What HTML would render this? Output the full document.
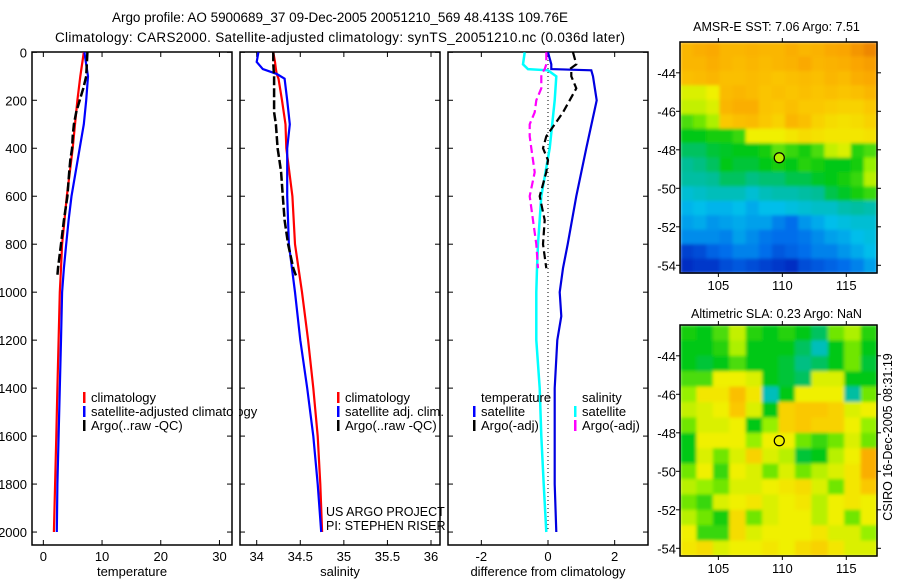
<!DOCTYPE html>
<html><head><meta charset="utf-8"><style>
body{margin:0;background:#fff;}
svg{display:block;font-family:"Liberation Sans",sans-serif;}
text{fill:#000;}
</style></head><body>
<svg id="fig" width="900" height="580" xmlns="http://www.w3.org/2000/svg">
<text x="340" y="22" font-size="13.5" text-anchor="middle" textLength="456">Argo profile: AO 5900689_37 09-Dec-2005 20051210_569 48.413S 109.76E</text>
<text x="340" y="42" font-size="13.5" text-anchor="middle" textLength="570">Climatology: CARS2000. Satellite-adjusted climatology: synTS_20051210.nc (0.036d later)</text>
<g id="g"></g>
</svg>
<script>
// ---- data ----
const tDepth=[0,100,200,300,400,500,600,700,800,900,1000,1200,1400,1600,1800,2000];
const tClim=[6.9,6.3,5.8,5.4,5.0,4.5,4.0,3.6,3.2,3.0,2.8,2.6,2.4,2.2,2.0,1.8];
const tSat=[7.0,7.6,7.3,6.9,6.2,5.5,4.8,4.3,3.9,3.5,3.2,3.0,2.8,2.6,2.4,2.3];
const aDepth=[0,50,100,150,200,250,300,350,400,450,500,600,700,800,900,930];
const tArgo=[7.5,7.4,7.3,6.8,6.2,5.6,5.2,5.0,4.9,4.6,4.4,4.1,3.5,3.0,2.5,2.4];
const sDepth=[0,40,70,90,110,200,300,400,600,800,1000,1200,1400,1600,1800,2000];
const sClim=[34.19,34.21,34.22,34.23,34.25,34.29,34.33,34.34,34.41,34.44,34.52,34.59,34.65,34.70,34.73,34.75];
const sSat=[34.02,34.0,34.07,34.23,34.32,34.35,34.38,34.35,34.35,34.37,34.44,34.50,34.58,34.65,34.70,34.74];
const sArgo=[34.19,34.19,34.2,34.2,34.2,34.2,34.22,34.24,34.26,34.28,34.30,34.32,34.36,34.42,34.44,34.45];
const sArgoDepth=[0,50,100,150,200,250,300,400,450,500,600,700,800,900,920,930];
const dDepth=[0,50,70,75,100,200,400,600,800,900,1000,1100,1200,1400,1600,1800,2000];
const dTSat=[0.0,0.1,0.1,1.3,1.35,1.46,1.15,0.85,0.59,0.45,0.35,0.4,0.28,0.2,0.2,0.2,0.25];
const dSSat=[-0.7,-0.75,-0.6,0.0,0.25,0.2,0.05,-0.2,-0.3,-0.33,-0.35,-0.35,-0.35,-0.25,-0.2,-0.13,-0.05];
const dTArgo=[0.75,0.85,0.65,0.7,0.7,0.85,0.65,0.45,0.2,-0.05,-0.15,0.0,-0.05,-0.25,-0.1,-0.15,-0.05];
const dDepthArgo=[0,50,70,80,100,150,200,250,300,350,400,450,500,600,700,800,900];
const dSArgo=[-0.05,-0.05,-0.1,-0.15,-0.2,-0.2,-0.35,-0.4,-0.55,-0.55,-0.5,-0.45,-0.4,-0.55,-0.45,-0.35,-0.3];
const depthTicks=[0,200,400,600,800,1000,1200,1400,1600,1800,2000];
const tTicks=[0,10,20,30];
const sTicks=[34,34.5,35,35.5,36];
const dTicks=[-2,0,2];
const sstGrid=[
[0.80,0.82,0.83,0.80,0.80,0.81,0.80,0.80,0.82,0.80,0.81,0.83,0.84,0.86,0.88],
[0.80,0.80,0.82,0.80,0.79,0.80,0.79,0.80,0.81,0.83,0.80,0.81,0.82,0.84,0.85],
[0.78,0.79,0.80,0.78,0.78,0.79,0.78,0.77,0.78,0.79,0.78,0.80,0.79,0.82,0.83],
[0.66,0.66,0.68,0.79,0.80,0.79,0.77,0.78,0.77,0.78,0.77,0.78,0.77,0.78,0.80],
[0.64,0.64,0.66,0.80,0.82,0.82,0.77,0.76,0.78,0.76,0.76,0.75,0.74,0.74,0.76],
[0.56,0.58,0.62,0.76,0.78,0.79,0.76,0.74,0.80,0.78,0.74,0.72,0.71,0.72,0.74],
[0.52,0.52,0.53,0.53,0.55,0.68,0.68,0.68,0.70,0.72,0.71,0.70,0.70,0.70,0.71],
[0.48,0.48,0.50,0.51,0.52,0.52,0.53,0.57,0.55,0.53,0.56,0.64,0.66,0.54,0.56],
[0.45,0.46,0.48,0.52,0.50,0.50,0.52,0.53,0.52,0.54,0.53,0.52,0.52,0.53,0.60],
[0.44,0.44,0.45,0.48,0.48,0.46,0.47,0.47,0.49,0.49,0.51,0.52,0.53,0.55,0.63],
[0.40,0.41,0.42,0.42,0.42,0.40,0.42,0.43,0.43,0.44,0.45,0.49,0.51,0.53,0.55],
[0.37,0.38,0.37,0.37,0.38,0.36,0.38,0.38,0.39,0.40,0.41,0.41,0.43,0.44,0.43],
[0.35,0.36,0.34,0.35,0.36,0.35,0.35,0.32,0.30,0.34,0.36,0.38,0.39,0.40,0.40],
[0.33,0.33,0.33,0.32,0.35,0.33,0.31,0.30,0.30,0.31,0.33,0.35,0.36,0.38,0.39],
[0.22,0.24,0.28,0.30,0.32,0.32,0.30,0.26,0.28,0.30,0.32,0.32,0.34,0.36,0.38],
[0.18,0.20,0.20,0.24,0.26,0.24,0.22,0.20,0.18,0.24,0.26,0.28,0.30,0.32,0.35]];
const slaGrid=[
[0.53,0.52,0.56,0.64,0.54,0.52,0.54,0.52,0.48,0.58,0.62,0.54],
[0.52,0.52,0.54,0.62,0.52,0.52,0.52,0.48,0.42,0.52,0.58,0.52],
[0.52,0.50,0.52,0.56,0.52,0.52,0.50,0.46,0.48,0.52,0.58,0.50],
[0.56,0.56,0.68,0.68,0.66,0.52,0.50,0.48,0.66,0.66,0.52,0.52],
[0.60,0.70,0.70,0.78,0.70,0.42,0.52,0.68,0.68,0.68,0.44,0.58],
[0.64,0.66,0.68,0.76,0.66,0.52,0.74,0.76,0.76,0.74,0.66,0.68],
[0.58,0.66,0.66,0.68,0.52,0.60,0.74,0.76,0.74,0.74,0.68,0.60],
[0.52,0.68,0.68,0.68,0.60,0.68,0.68,0.58,0.55,0.58,0.66,0.58],
[0.52,0.66,0.58,0.66,0.74,0.66,0.63,0.50,0.52,0.63,0.68,0.82],
[0.58,0.68,0.55,0.68,0.66,0.58,0.66,0.58,0.63,0.66,0.70,0.82],
[0.63,0.60,0.58,0.66,0.66,0.68,0.70,0.72,0.66,0.58,0.70,0.76],
[0.58,0.55,0.66,0.68,0.70,0.66,0.68,0.70,0.63,0.68,0.70,0.68],
[0.63,0.58,0.53,0.72,0.58,0.66,0.68,0.68,0.63,0.68,0.58,0.68],
[0.68,0.55,0.55,0.72,0.66,0.68,0.68,0.68,0.70,0.66,0.66,0.60],
[0.70,0.72,0.66,0.68,0.68,0.70,0.68,0.72,0.74,0.70,0.66,0.66]];
const mapXTicks=[105,110,115];
const mapYTicks=[-44,-46,-48,-50,-52,-54];
const argoLon=109.76, argoLat=-48.413;

// ---- helpers ----
const NS="http://www.w3.org/2000/svg";
const G=document.getElementById('g');
function mk(tag,at,parent){const e=document.createElementNS(NS,tag);for(const k in at)e.setAttribute(k,at[k]);(parent||G).appendChild(e);return e;}
function lin(d0,d1,r0,r1){return v=>r0+(v-d0)*(r1-r0)/(d1-d0);}
const TOP=52,BOT=545;
const yD=lin(0,2054,52.3,545);

function panel(name,x0,x1,xs,xt,xlab,tickFmt,showY){
  const ax=mk('g',{});
  
  
  const r=mk('rect',{x:x0,y:TOP,width:x1-x0,height:BOT-TOP,fill:'none',stroke:'#000','stroke-width':1.5},ax);
  
  
  xt.forEach(v=>{const x=xs(v);
    mk('line',{x1:x,x2:x,y1:TOP,y2:TOP+5,stroke:'#000'},ax);
    mk('line',{x1:x,x2:x,y1:BOT,y2:BOT-5,stroke:'#000'},ax);
    const t=mk('text',{x:x,y:561,'font-size':13,'text-anchor':'middle'},ax);
    
    
    t.textContent=tickFmt(v);});
  depthTicks.forEach(v=>{const y=yD(v);
    mk('line',{x1:x0,x2:x0+5,y1:y,y2:y,stroke:'#000'},ax);
    mk('line',{x1:x1,x2:x1-5,y1:y,y2:y,stroke:'#000'},ax);
    if(showY){const t=mk('text',{x:27,y:y+5,'font-size':13,'text-anchor':'end'},ax);
      
      
      t.textContent=v;}});
  const l=mk('text',{x:(x0+x1)/2,y:576,'font-size':13,'text-anchor':'middle'},ax);
  
  
  l.textContent=xlab;
  return ax;
}
function line(parent,name,xs,depths,vals,color,w,dash){
  const pts=depths.map((d,i)=>xs(vals[i]).toFixed(1)+','+yD(d).toFixed(1)).join(' ');
  const p=mk('polyline',{points:pts,fill:'none',stroke:color,'stroke-width':w,'stroke-dasharray':dash||'none'},parent);
  
  
}
function legend(parent,x,y,color,label,name){
  mk('rect',{x:x,y:y-10,width:2.5,height:11,fill:color},parent);
  const t=mk('text',{x:x+8,y:y,'font-size':13},parent);
  
  
  t.textContent=label;
}

// panel 1 temperature
const xT=lin(-2,32,31.6,231.2);
const p1=panel('temperature-panel',32,232,xT,tTicks,'temperature',v=>v,true);
line(p1,'temp-climatology-line',xT,tDepth,tClim,'#f00',2.2);
line(p1,'temp-satellite-line',xT,tDepth,tSat,'#00f',2.2);
line(p1,'temp-argo-line',xT,aDepth,tArgo,'#000',2.5,'9,3');
legend(p1,83,402,'#f00','climatology','legend-climatology');
legend(p1,83,416,'#00f','satellite-adjusted climatology','legend-satellite');
legend(p1,83,430,'#000','Argo(..raw -QC)','legend-argo');
mk('rect',{x:233,y:380,width:6,height:60,fill:'#fff'});

// panel 2 salinity
const xS=lin(34,36,256.7,431);
const p2=panel('salinity-panel',240,440,xS,sTicks,'salinity',v=>v,false);
line(p2,'sal-climatology-line',xS,sDepth,sClim,'#f00',2.2);
line(p2,'sal-satellite-line',xS,sDepth,sSat,'#00f',2.2);
line(p2,'sal-argo-line',xS,sArgoDepth,sArgo,'#000',2.5,'9,3');
legend(p2,337,402,'#f00','climatology','legend-sal-climatology');
legend(p2,337,416,'#00f','satellite adj. clim.','legend-sal-satellite');
legend(p2,337,430,'#000','Argo(..raw -QC)','legend-sal-argo');
[['US ARGO PROJECT',516],['PI: STEPHEN RISER',530]].forEach(a=>{const t=mk('text',{x:326,y:a[1],'font-size':12.5},p2);
  
  
  t.textContent=a[0];});

// panel 3 differences
const xDf=lin(-3,3,448,648);
const p3=panel('difference-panel',448,648,xDf,dTicks,'difference from climatology',v=>v,false);
mk('line',{x1:xDf(0),x2:xDf(0),y1:TOP,y2:yD(2000),stroke:'#000','stroke-dasharray':'1,3'},p3);
line(p3,'diff-temp-satellite-line',xDf,dDepth,dTSat,'#0000e0',2.2);
line(p3,'diff-sal-satellite-line',xDf,dDepth,dSSat,'#0ff',2.5);
line(p3,'diff-temp-argo-line',xDf,dDepthArgo,dTArgo,'#000',2.2,'8,4');
line(p3,'diff-sal-argo-line',xDf,dDepthArgo,dSArgo,'#f0f',2.2,'8,4');
let th=mk('text',{x:481,y:402,'font-size':13},p3);th.textContent='temperature';


let sh=mk('text',{x:582,y:402,'font-size':13},p3);sh.textContent='salinity';


legend(p3,473,416,'#00f','satellite','legend-diff-temp-sat');
legend(p3,473,430,'#000','Argo(-adj)','legend-diff-temp-argo');
legend(p3,574,416,'#0ff','satellite','legend-diff-sal-sat');
legend(p3,574,430,'#f0f','Argo(-adj)','legend-diff-sal-argo');

// maps
const cmapStops=[[0.0,[0,0,140]],[0.15,[0,30,185]],[0.3,[0,110,235]],[0.38,[0,190,235]],[0.45,[0,190,150]],[0.52,[0,200,20]],[0.6,[150,240,0]],[0.68,[240,240,0]],[0.76,[250,200,0]],[0.84,[250,165,0]],[0.92,[225,105,0]],[1.0,[200,60,0]]];
function cmap(v){
  for(let i=1;i<cmapStops.length;i++){
    const a=cmapStops[i-1],b=cmapStops[i];
    if(v<=b[0]){const t=Math.max(0,(v-a[0])/(b[0]-a[0]));
      return 'rgb('+a[1].map((c,k)=>Math.round(c+(b[1][k]-c)*t)).join(',')+')';}
  }
  return 'rgb(200,60,0)';
}
const defs=mk('defs',{});
const f=mk('filter',{id:'soft',x:0,y:0,width:1,height:1},defs);
mk('feGaussianBlur',{stdDeviation:1.6},f);
function map(name,title,grid,y0,y1,ty){
  const x0=680,x1=877;
  const xs=lin(102.0,117.4,x0,x1), ys=lin(-42.4,-54.4,y0,y1);
  const g=mk('g',{});
  
  
  const cells=mk('g',{filter:'url(#soft)'},g);
  const R=grid.length,C=grid[0].length,cw=(x1-x0)/C,ch=(y1-y0)/R;
  grid.forEach((row,i)=>row.forEach((v,j)=>{
    const c=mk('rect',{x:x0+j*cw,y:y0+i*ch,width:cw+0.6,height:ch+0.6,fill:cmap(v)},cells);
    
    }));
  mk('rect',{x:x0,y:y0,width:x1-x0,height:y1-y0,fill:'none',stroke:'#000','stroke-width':1.5},g);
  mapXTicks.forEach(v=>{const x=xs(v);
    mk('line',{x1:x,x2:x,y1:y0-4,y2:y0,stroke:'#000'},g);
    mk('line',{x1:x,x2:x,y1:y1,y2:y1+4,stroke:'#000'},g);
    const t=mk('text',{x:x,y:y1+17,'font-size':13,'text-anchor':'middle'},g);
    
    
    t.textContent=v;});
  mapYTicks.forEach(v=>{const y=ys(v);
    mk('line',{x1:x0-4,x2:x0,y1:y,y2:y,stroke:'#000'},g);
    mk('line',{x1:x1,x2:x1+4,y1:y,y2:y,stroke:'#000'},g);
    const t=mk('text',{x:676,y:y+5,'font-size':13,'text-anchor':'end'},g);
    
    
    t.textContent=v;});
  const c=mk('circle',{cx:xs(argoLon),cy:ys(argoLat),r:5,fill:name==='sst-map'?cmap(0.62):'none',stroke:'#000','stroke-width':1.2},g);
  
  
  const t=mk('text',{x:(x0+x1)/2-2,y:ty,'font-size':12.5,'text-anchor':'middle'},g);
  
  
  t.textContent=title;
}
map('sst-map','AMSR-E SST: 7.06 Argo: 7.51',sstGrid,42,273,31);
map('sla-map','Altimetric SLA: 0.23 Argo: NaN',slaGrid,325,556,318);
const cs=mk('text',{x:0,y:0,'font-size':12.5,'text-anchor':'middle',transform:'translate(892,437) rotate(-90)'});


cs.textContent='CSIRO 16-Dec-2005 08:31:19';
</script>
</body></html>
